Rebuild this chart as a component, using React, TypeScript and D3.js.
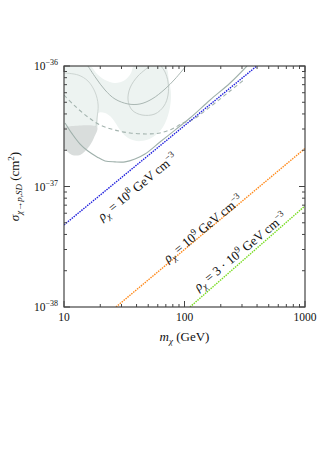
import React from 'react';
import * as d3 from 'd3';

const W = 331;
const H = 467;
const FONT = '"Liberation Serif", "DejaVu Serif", serif';

// axis ticks
const xMajor = [10, 100, 1000];
const xTickLabels = ['10', '100', '1000'];
const yMajor = [1e-38, 1e-37, 1e-36];
const yTickExp = ['−38', '−37', '−36'];

// density lines (m in GeV, sigma in cm^2)
const blueMass = [10, 398];
const blueSigma = [4.8e-38, 1e-36];
const orangeMass = [27, 1000];
const orangeSigma = [1e-38, 2.07e-37];
const greenMass = [111, 1000];
const greenSigma = [1e-38, 6.9e-38];

// experimental bounds (grey)
const limitMass = [10.2, 11.7, 13.6, 15.8, 18.8, 21.9, 26.5, 32.1, 38.8, 47.0, 62.6, 83.4, 111, 163, 239, 330];
const limitSigma = [3.37e-37, 2.73e-37, 2.25e-37, 1.97e-37, 1.76e-37, 1.63e-37, 1.6e-37, 1.6e-37, 1.69e-37, 1.86e-37, 2.34e-37, 2.94e-37, 3.7e-37, 5.22e-37, 7.23e-37, 1e-36];
const dashMass = [10, 12.3, 15.8, 19.9, 26.5, 35.3, 48.9, 62.6, 78.8, 97.2, 115.4, 162.8, 238.6, 317.8];
const dashSigma = [5.74e-37, 4.66e-37, 3.77e-37, 3.24e-37, 2.94e-37, 2.78e-37, 2.73e-37, 2.78e-37, 3.0e-37, 3.37e-37, 3.56e-37, 4.57e-37, 6.2e-37, 7.8e-37];
const upperMass = [15.8, 18.4, 21.9, 26.5, 34.0, 42.7, 53.7, 68.9, 83.4, 102.9];
const upperSigma = [1e-36, 7.95e-37, 6.32e-37, 5.32e-37, 4.84e-37, 4.84e-37, 5.32e-37, 6.44e-37, 7.8e-37, 1e-36];
const ovalMass = [51.7, 41.1, 35.3, 34.0, 36.7, 44.4, 56.9, 67.6, 73.0, 73.0, 68.9, 63.8];
const ovalSigma = [1e-36, 8.26e-37, 6.57e-37, 5.22e-37, 4.31e-37, 3.92e-37, 4.0e-37, 4.66e-37, 5.74e-37, 7.37e-37, 8.92e-37, 1e-36];
const edgeMass = [10, 13.1, 15.8, 18.1, 19.2, 18.8, 18.4];
const edgeSigma = [8.75e-37, 8.42e-37, 7.51e-37, 6.08e-37, 4.75e-37, 3.7e-37, 3.12e-37];

// shaded regions
const lightMass = [10, 16.4, 18.8, 21.9, 26.5, 32.1, 36.0, 38.1, 68.9, 74.3, 77.3, 74.3, 66.3, 54.8, 42.7, 34.0, 29.2, 25.0, 21.9, 19.2, 18.8, 10];
const lightSigma = [1e-36, 1e-36, 8.58e-37, 7.65e-37, 7.23e-37, 7.65e-37, 8.75e-37, 1e-36, 1e-36, 7.65e-37, 5.74e-37, 4.15e-37, 3.12e-37, 2.58e-37, 2.38e-37, 2.53e-37, 2.94e-37, 3.7e-37, 4.07e-37, 4.07e-37, 3.06e-37, 3.06e-37];
const darkMass = [10, 18.8, 17.7, 15.8, 13.6, 11.65, 10];
const darkSigma = [3.12e-37, 3.12e-37, 2.53e-37, 2.09e-37, 1.83e-37, 1.83e-37, 2.09e-37];

// label anchors
const labelMass = [40.5, 142, 289];
const labelSigma = [1.0e-37, 4.5e-38, 2.9e-38];
const labelPrefix = ['', '', '3 · '];
const labelExp = ['8', '9', '9'];

const zip = (a: number[], b: number[]) => a.map((v, i) => [v, b[i]] as [number, number]);

export default function App() {
  const left = 64, right = 305, top = 66, bottom = 307;
  const x = d3.scaleLog().domain([10, 1000]).range([left, right]);
  const y = d3.scaleLog().domain([1e-38, 1e-36]).range([bottom, top]);

  const line = d3.line<[number, number]>().x(d => x(d[0])).y(d => y(d[1]));
  const smooth = d3.line<[number, number]>().x(d => x(d[0])).y(d => y(d[1])).curve(d3.curveCatmullRom);
  const area = (m: number[], s: number[]) => smooth(zip(m, s)) + 'Z';

  const angle = (m: number[], s: number[]) =>
    (Math.atan2(y(s[1]) - y(s[0]), x(m[1]) - x(m[0])) * 180) / Math.PI;
  const rot = angle(blueMass, blueSigma);

  const xTicks = x.ticks();
  const yTicks = y.ticks();
  const isMajor = (v: number) => Math.abs(Math.log10(v) - Math.round(Math.log10(v))) < 1e-6;
  const axisColor = '#444';

  return (
    <svg width={W} height={H} style={{ position: 'absolute', left: 0, top: 0, background: '#fff' }} fontFamily={FONT}>
      <defs>
        <clipPath id="plot">
          <rect x={left} y={top} width={right - left} height={bottom - top} />
        </clipPath>
      </defs>
      <g clipPath="url(#plot)">
        <path d={area(lightMass, lightSigma)} fill="#edf3f1" />
        <path d={area(darkMass, darkSigma)} fill="#d9dddc" />
        <path d={smooth(zip(edgeMass, edgeSigma)) || ''} fill="none" stroke="#cdd5d2" strokeWidth={1} />
        <path d={smooth(zip(ovalMass, ovalSigma)) || ''} fill="none" stroke="#c8d0cd" strokeWidth={1} />
        <path d={smooth(zip(upperMass, upperSigma)) || ''} fill="none" stroke="#aab7b3" strokeWidth={1} />
        <path d={smooth(zip(dashMass, dashSigma)) || ''} fill="none" stroke="#a3b3ae" strokeWidth={1.1} strokeDasharray="4,3" />
        <path d={smooth(zip(limitMass, limitSigma)) || ''} fill="none" stroke="#9fb0ab" strokeWidth={1.1} />
        <path d={line(zip(blueMass, blueSigma)) || ''} fill="none" stroke="#2020dd" strokeWidth={1.4} strokeDasharray="1.5,1" />
        <path d={line(zip(orangeMass, orangeSigma)) || ''} fill="none" stroke="#ff8a1c" strokeWidth={1.4} strokeDasharray="1.5,1" />
        <path d={line(zip(greenMass, greenSigma)) || ''} fill="none" stroke="#78dc20" strokeWidth={1.4} strokeDasharray="1.5,1" />
      </g>

      {labelMass.map((m, i) => (
        <text key={i} transform={`translate(${x(m)},${y(labelSigma[i])}) rotate(${rot})`} textAnchor="middle" dy="0.35em" fontSize={13} fill="#111">
          <tspan fontStyle="italic">ρ</tspan>
          <tspan fontSize={9} dy={3} fontStyle="italic">χ</tspan>
          <tspan dy={-3}>{` = ${labelPrefix[i]}10`}</tspan>
          <tspan fontSize={9} dy={-5}>{labelExp[i]}</tspan>
          <tspan dy={5}> GeV cm</tspan>
          <tspan fontSize={9} dy={-5}>−3</tspan>
        </text>
      ))}

      {/* ticks on all four sides, pointing inward */}
      <g stroke={axisColor} strokeWidth={1}>
        {xTicks.map((t, i) => {
          const len = isMajor(t) ? 6 : 3;
          return (
            <g key={'x' + i}>
              <line x1={x(t)} x2={x(t)} y1={bottom} y2={bottom - len} />
              <line x1={x(t)} x2={x(t)} y1={top} y2={top + len} />
            </g>
          );
        })}
        {yTicks.map((t, i) => {
          const len = isMajor(t) ? 6 : 3;
          return (
            <g key={'y' + i}>
              <line x1={left} x2={left + len} y1={y(t)} y2={y(t)} />
              <line x1={right} x2={right - len} y1={y(t)} y2={y(t)} />
            </g>
          );
        })}
      </g>
      <rect x={left} y={top} width={right - left} height={bottom - top} fill="none" stroke={axisColor} strokeWidth={1.2} />

      {xMajor.map((t, i) => (
        <text key={'xl' + i} x={x(t)} y={bottom + 14} textAnchor="middle" fontSize={11.5} fill="#111">
          {xTickLabels[i]}
        </text>
      ))}
      {yMajor.map((t, i) => (
        <text key={'yl' + i} x={left - 6} y={y(t) + 4} textAnchor="end" fontSize={11.5} fill="#111">
          10<tspan fontSize={8} dy={-5}>{yTickExp[i]}</tspan>
        </text>
      ))}

      <text x={(left + right) / 2} y={bottom + 34} textAnchor="middle" fontSize={13} fill="#111">
        <tspan fontStyle="italic">m</tspan>
        <tspan fontSize={9} dy={3} fontStyle="italic">χ</tspan>
        <tspan dy={-3}> (GeV)</tspan>
      </text>
      <text transform={`translate(19,${(top + bottom) / 2}) rotate(-90)`} textAnchor="middle" fontSize={13} fill="#111">
        <tspan fontStyle="italic">σ</tspan>
        <tspan fontSize={9} dy={3} fontStyle="italic">χ→p,SD</tspan>
        <tspan dy={-3}> (cm</tspan>
        <tspan fontSize={9} dy={-5}>2</tspan>
        <tspan dy={5}>)</tspan>
      </text>
    </svg>
  );
}
